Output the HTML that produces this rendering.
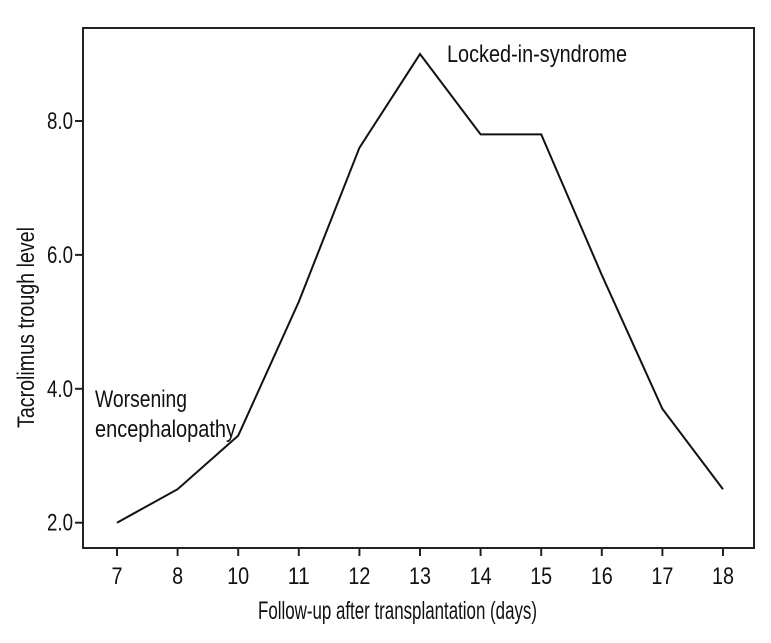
<!DOCTYPE html>
<html><head><meta charset="utf-8"><style>
body{margin:0;background:#fff;}
svg{display:block;font-family:"Liberation Sans",sans-serif;}
</style></head><body>
<svg id="chart" width="771" height="643">
<rect x="83" y="28" width="671" height="520" fill="none" stroke="#222" stroke-width="2"/>
<g id="xaxis"></g><g id="yaxis"></g>
<path id="line" fill="none" stroke="#111" stroke-width="2"/>
<text x="447" y="62" font-size="24" textLength="180" lengthAdjust="spacingAndGlyphs" fill="#111">Locked-in-syndrome</text>
<text x="95" y="407" font-size="24" textLength="92" lengthAdjust="spacingAndGlyphs" fill="#111">Worsening</text>
<text x="95" y="437" font-size="24" textLength="141" lengthAdjust="spacingAndGlyphs" fill="#111">encephalopathy</text>
<text x="258" y="619" font-size="25" textLength="279" lengthAdjust="spacingAndGlyphs" fill="#111">Follow-up after transplantation (days)</text>
<text transform="translate(34,428) rotate(-90)" font-size="24" textLength="201" lengthAdjust="spacingAndGlyphs" fill="#111">Tacrolimus trough level</text>
</svg>
<script>
const categories=["7","8","10","11","12","13","14","15","16","17","18"];
const values=[2.0,2.5,3.3,5.3,7.6,9.0,7.8,7.8,5.7,3.7,2.5];
const yTicks=[2,4,6,8];
const yTickLabels=["2.0","4.0","6.0","8.0"];
const ns="http://www.w3.org/2000/svg";
function xs(i){return 117+i*60.6;}
function ys(v){return 522.7-(v-2)*66.95;}
const xg=document.getElementById('xaxis'),yg=document.getElementById('yaxis');
categories.forEach((c,i)=>{
 const l=document.createElementNS(ns,'line');
 l.setAttribute('x1',xs(i));l.setAttribute('x2',xs(i));l.setAttribute('y1',548);l.setAttribute('y2',556);l.setAttribute('stroke','#222');l.setAttribute('stroke-width','2');
 
 
 xg.appendChild(l);
 const t=document.createElementNS(ns,'text');
 t.setAttribute('x',xs(i));t.setAttribute('y',584);t.setAttribute('text-anchor','middle');t.setAttribute('font-size','24');t.setAttribute('fill','#111');
 t.setAttribute('textLength',c.length*11);t.setAttribute('lengthAdjust','spacingAndGlyphs');
 t.textContent=c;
 
 
 xg.appendChild(t);
});
yTicks.forEach((v,i)=>{
 const l=document.createElementNS(ns,'line');
 l.setAttribute('x1',75);l.setAttribute('x2',83);l.setAttribute('y1',ys(v));l.setAttribute('y2',ys(v));l.setAttribute('stroke','#222');l.setAttribute('stroke-width','2');
 
 
 yg.appendChild(l);
 const t=document.createElementNS(ns,'text');
 t.setAttribute('x',47);t.setAttribute('y',ys(v)+8);t.setAttribute('font-size','24');t.setAttribute('fill','#111');
 t.setAttribute('textLength',26);t.setAttribute('lengthAdjust','spacingAndGlyphs');
 t.textContent=yTickLabels[i];
 
 
 yg.appendChild(t);
});
document.getElementById('line').setAttribute('d',values.map((v,i)=>(i?'L':'M')+xs(i)+','+ys(v)).join(' '));
</script>
</body></html>
